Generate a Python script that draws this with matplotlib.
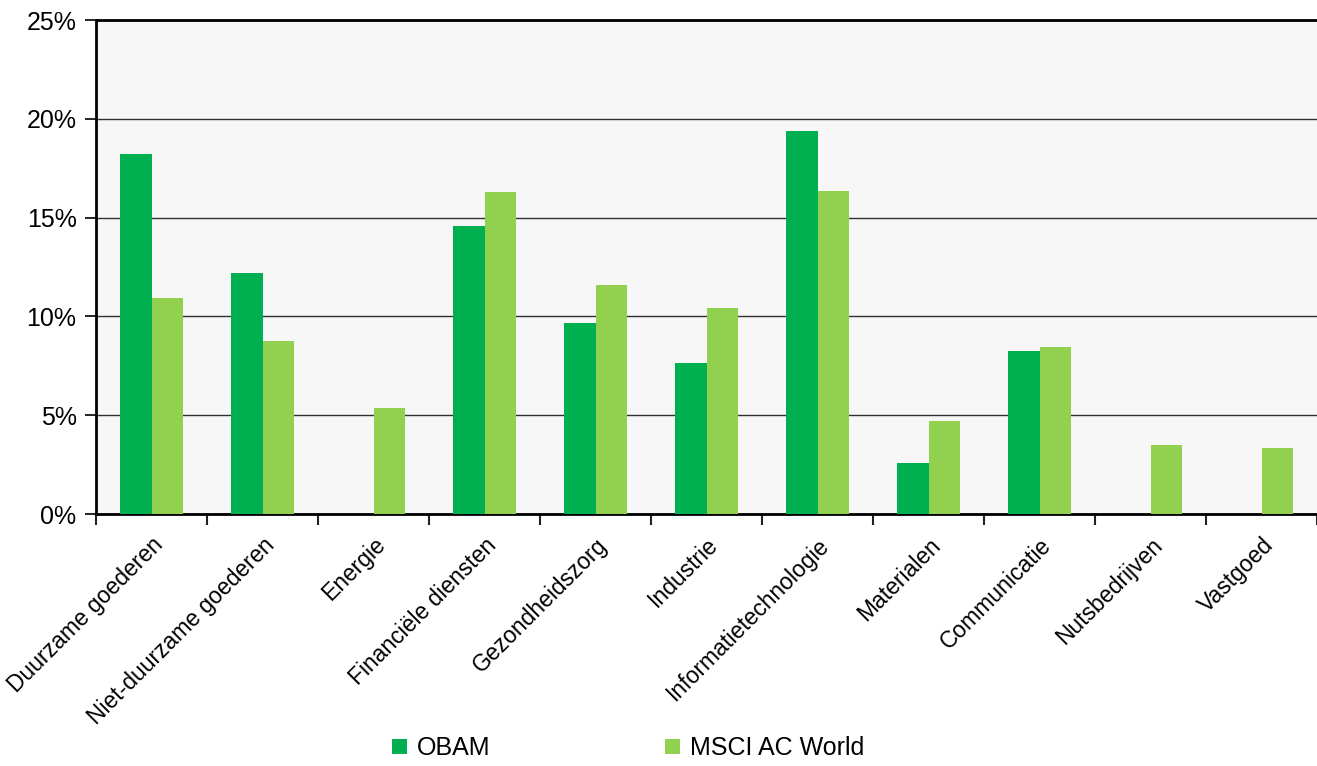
import numpy as np
import matplotlib.pyplot as plt
from matplotlib.ticker import FuncFormatter

plt.rcParams['font.family'] = ['Liberation Sans', 'DejaVu Sans']

# sector names
sectors = ['Duurzame goederen', 'Niet-duurzame goederen', 'Energie',
           'Financiële diensten', 'Gezondheidszorg', 'Industrie',
           'Informatietechnologie', 'Materialen', 'Communicatie',
           'Nutsbedrijven', 'Vastgoed']
# weights in %
obam = [18.2, 12.2, 0.0, 14.55, 9.65, 7.65, 19.4, 2.6, 8.25, 0.0, 0.0]
msci = [10.95, 8.75, 5.35, 16.3, 11.6, 10.4, 16.35, 4.7, 8.45, 3.48, 3.35]
series_names = ['OBAM', 'MSCI AC World']

c_obam = '#00B050'
c_msci = '#92D050'

fig = plt.figure(figsize=(13.17, 7.66), dpi=100)
ax = fig.add_axes([96/1317, 1-514/766, 1-96/1317, (514-20)/766])
ax.set_facecolor('#F7F7F7')

x = np.arange(len(sectors))
w = 0.285
ax.bar(x - w/2, obam, w, color=c_obam, label=series_names[0], zorder=3)
ax.bar(x + w/2, msci, w, color=c_msci, label=series_names[1], zorder=3)

ax.set_xlim(-0.5, len(sectors) - 0.5)
ax.set_ylim(0, 25)
ax.set_yticks(np.arange(0, 26, 5))
ax.yaxis.set_major_formatter(FuncFormatter(lambda v, p: '%d%%' % v))
ax.yaxis.grid(True, color='#303030', linewidth=1.0, zorder=0)

ax.set_xticks(x)
ax.set_xticklabels(sectors, rotation=45, ha='right', va='top',
                   rotation_mode='anchor')
ax.set_xticks(np.arange(-0.5, len(sectors), 1), minor=True)
ax.tick_params(axis='x', which='major', length=0, pad=14, labelsize=16.5)
ax.tick_params(axis='x', which='minor', length=8, width=1.5, color='#222222')
ax.tick_params(axis='y', length=8, width=1.2, pad=6, labelsize=18)

for s in ['left', 'bottom', 'top']:
    ax.spines[s].set_linewidth(2)
    ax.spines[s].set_color('black')
ax.spines['right'].set_visible(False)

fig.legend(loc='lower center', bbox_to_anchor=(0.477, -0.022), ncol=2,
           frameon=False, fontsize=18, handlelength=0.6, handleheight=0.6,
           handletextpad=0.4, columnspacing=7.0)

plt.savefig('out.png', dpi=100)
